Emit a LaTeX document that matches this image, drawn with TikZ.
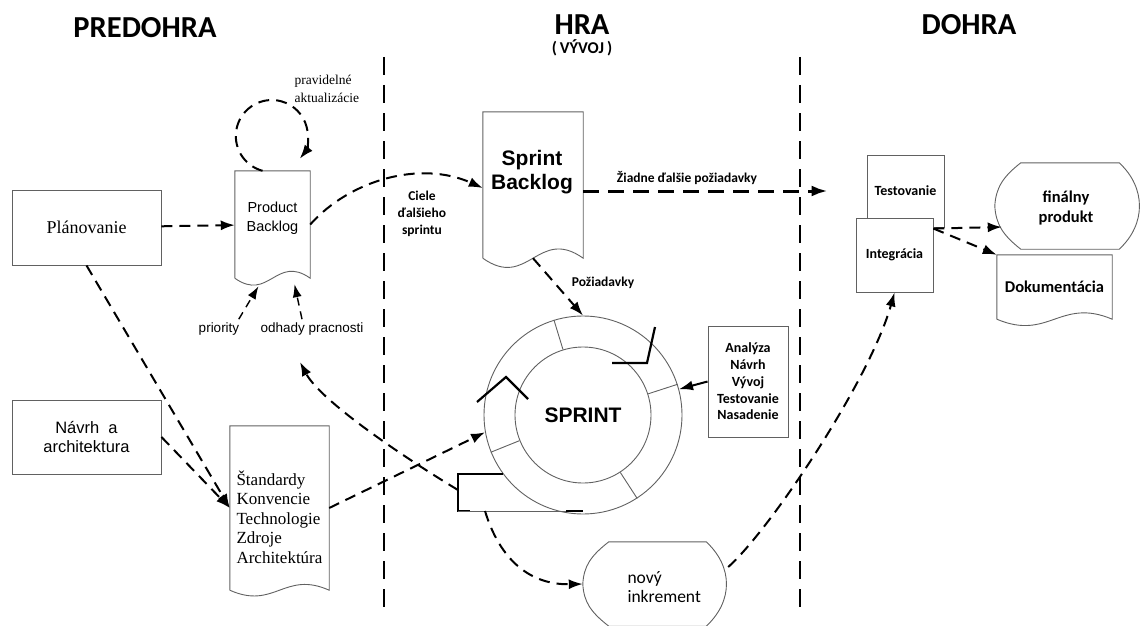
\documentclass[tikz,border=0pt]{standalone}
\usepackage{fontspec}
\setmainfont{Liberation Serif}
\newfontfamily\arialf{Liberation Sans}
\newfontfamily\calf{Carlito}
\usetikzlibrary{arrows.meta,calc}

\newcommand\fsz[2]{\fontsize{#1}{#2}\selectfont}

% document symbol: straight top and sides, wavy bottom
\newcommand\docshape[2]{%
  \draw[outline] (#1.south west) -- (#1.north west) -- (#1.north east) -- (#1.south east)
    .. controls ($(#1.south west)!0.55!(#1.south east)+(0,#2)$)
            and ($(#1.south west)!0.45!(#1.south east)-(0,#2)$) .. (#1.south west);}

% display symbol: pointed left side, rounded right side
\newcommand\dispshape[1]{%
  \draw[outline, fill=white] ($(#1.north west)+(26,0)$) -- ($(#1.north east)+(-22,0)$)
    .. controls ($(#1.north east)+(5,-25)$) and ($(#1.south east)+(5,25)$) .. ($(#1.south east)+(-22,0)$)
    -- ($(#1.south west)+(26,0)$)
    .. controls ($(#1.south west)+(8,14)$) and ($(#1.west)+(1,-18)$) .. (#1.west)
    .. controls ($(#1.west)+(1,18)$) and ($(#1.north west)+(8,-14)$) .. cycle;}

\begin{document}
\begin{tikzpicture}[x=1pt,y=1pt,
  outline/.style={draw=black!62, line width=0.9pt},
  box/.style={rectangle, draw=black!62, line width=0.9pt, fill=white, inner sep=0pt},
  ghost/.style={rectangle, inner sep=0pt},
  ring/.style={circle, draw=black!62, line width=0.9pt, inner sep=0pt},
  flow/.style={line width=2pt, dash pattern=on 11pt off 7pt, -{Latex[length=14pt,width=10pt]}},
  thinflow/.style={line width=1.4pt, dash pattern=on 8pt off 6pt, -{Latex[length=13pt,width=9pt]}},
  boldflow/.style={line width=3pt, dash pattern=on 16pt off 9pt, -{Latex[length=16pt,width=11pt]}},
  solidflow/.style={line width=2pt, -{Latex[length=14pt,width=10pt]}},
  divider/.style={line width=2.2pt, dash pattern=on 18pt off 10pt},
  marker/.style={line width=2.2pt, black},
  title/.style={font=\calf\bfseries\fsz{30.5}{34}},
  calibold/.style={font=\calf\bfseries\fsz{13.5}{17}, align=center},
]
\useasboundingbox (0,0) rectangle (1141,-626);

% phase headings
\node[title] (tpre) at (145,-28) {PREDOHRA};
\node[title] (thra) at (582,-25) {HRA};
\node[font=\calf\bfseries\fsz{16.5}{18}] (tvyv) at (582,-48) {(\hspace{3pt}VÝVOJ\hspace{3pt})};
\node[title] (tdoh) at (969,-25) {DOHRA};

% phase dividers
\coordinate (d1a) at (384,-57);  \coordinate (d1b) at (384,-608);
\coordinate (d2a) at (800,-57);  \coordinate (d2b) at (800,-608);
\draw[divider] (d1a) -- (d1b);
\draw[divider] (d2a) -- (d2b);

% pre-game
\node[box, minimum width=149pt, minimum height=75pt, font=\fsz{18}{21}] (plan) at (86.5,-227.5) {Plánovanie};
\node[box, minimum width=149pt, minimum height=74pt, font=\arialf\fsz{16.5}{19.5}, align=center]
  (nav) at (86.5,-437) {Návrh\ \ a\\architektura};

\node[ghost, minimum width=75pt, minimum height=107pt] (pb) at (272.5,-224.5) {};
\docshape{pb}{24}
\node[font=\arialf\fsz{14.5}{19.5}, align=center] (pbt) at (272.5,-218) {Product\\Backlog};

\node[ghost, minimum width=99pt, minimum height=164pt] (std) at (279.5,-508) {};
\docshape{std}{20}
\node[font=\fsz{17}{19.5}, align=left, anchor=west] (stdt) at (233,-517)
  {Štandardy\\Konvencie\\Technologie\\Zdroje\\Architektúra};

\node[font=\fsz{13.5}{18}, align=left, anchor=west] (lupd) at (291,-89) {pravidelné\\aktualizácie};
\node[font=\arialf\fsz{13.5}{16}] (lpri) at (219,-329) {priority};
\node[font=\arialf\fsz{13.5}{16}] (lodh) at (312,-329) {odhady pracnosti};

% game
\node[ghost, minimum width=100pt, minimum height=146pt] (sb) at (533,-185) {};
\docshape{sb}{32}
\node[font=\arialf\bfseries\fsz{21}{24}, align=center] (sbt) at (532,-172) {Sprint\\Backlog};

\node[calibold] (lgoal) at (422,-214) {Ciele\\ďalšieho\\sprintu};
\node[calibold] (lreq) at (603,-283) {Požiadavky};
\node[calibold] (lnone) at (687,-178) {Žiadne ďalšie požiadavky};

\node[ring, minimum size=198pt] (spo) at (583,-415) {};
\node[ring, minimum size=136pt, font=\arialf\bfseries\fsz{21}{24}] (spi) at (583,-415) {SPRINT};
\foreach \a in {107,18,202,-57}
  \draw[outline] (spi.\a) -- (spo.\a);

% cycle markers on the sprint ring
\draw[marker] (612,-363) -- (647,-363) -- (655,-327);
\draw[marker] (477,-402) -- (506,-377) -- (528,-399);
\coordinate (brk) at (458,-490);
\coordinate (brkb) at (485,-511);
\draw[marker] (503,-474) -- (458,-474) -- (458,-511) -- (470,-511);
\draw[outline] (458,-511) -- (583,-511);
\draw[marker] (566,-511) -- (583,-511);

\node[box, minimum width=80pt, minimum height=111pt, font=\calf\bfseries\fsz{14}{16.8}, align=center]
  (anl) at (748,-381.5) {Analýza\\Návrh\\Vývoj\\Testovanie\\Nasadenie};

\node[ghost, minimum width=145pt, minimum height=84pt] (inc) at (655.5,-584) {};
\dispshape{inc}
\node[font=\calf\fsz{17.5}{19}, align=left, anchor=west] (inct) at (624,-587) {nový\\inkrement};

% post-game
\node[box, minimum width=77pt, minimum height=72pt, font=\calf\bfseries\fsz{14}{16}] (tst) at (905.5,-191) {Testovanie};
\node[box, minimum width=77pt, minimum height=74pt, font=\calf\bfseries\fsz{14}{16}] (integ) at (894.5,-255) {Integrácia};

\node[ghost, minimum width=146pt, minimum height=86pt] (fin) at (1068,-206) {};
\dispshape{fin}
\node[font=\calf\bfseries\fsz{16.5}{20}, align=center] (fint) at (1066,-208) {finálny\\produkt};

\node[ghost, minimum width=115pt, minimum height=64pt, font=\calf\bfseries\fsz{16.5}{20}] (dok) at (1054.5,-287) {Dokumentácia};
\docshape{dok}{22}

% connectors
\draw[flow] (plan) -- (pb);
\coordinate (lps) at ([xshift=-10pt]pb.north);
\draw[flow] (lps) arc[start angle=255, end angle=-39, radius=36];
\draw[thinflow] ([xshift=-4pt]lpri.north east) -- ([shift={(-14pt,-8pt)}]pb.south);
\draw[thinflow] ([xshift=-10pt]lodh.north) -- ([shift={(22pt,-6pt)}]pb.south);
\draw[flow] (plan.south) -- (std.west);
\draw[flow] (nav.east) -- (std.west);
\draw[flow] (pb.east) .. controls (350,-180) and (420,-160) .. ([yshift=-3pt]sb.west);
\draw[flow] (sb.south) -- (spo.north);
\draw[boldflow, shorten >=39pt] (sb.east |- tst.west) -- (tst.west);
\draw[solidflow] (anl.west) -- (spo);
\draw[flow] (std.east) -- (spo.190);
\coordinate (pbret) at (300,-362);
\draw[flow] (brk) .. controls (400,-455) and (320,-400) .. (pbret);
\draw[flow] (brkb) .. controls (500,-560) and (530,-585) .. (inc.west);
\draw[flow] ([yshift=17pt]inc.east) .. controls (770,-530) and (870,-380) .. (integ.south);
\draw[flow] ([yshift=-11pt]integ.north east) -- ([shift={(7pt,-21pt)}]fin.west);
\draw[flow] ([yshift=-11pt]integ.north east) -- (dok.north west);
\end{tikzpicture}
\end{document}
